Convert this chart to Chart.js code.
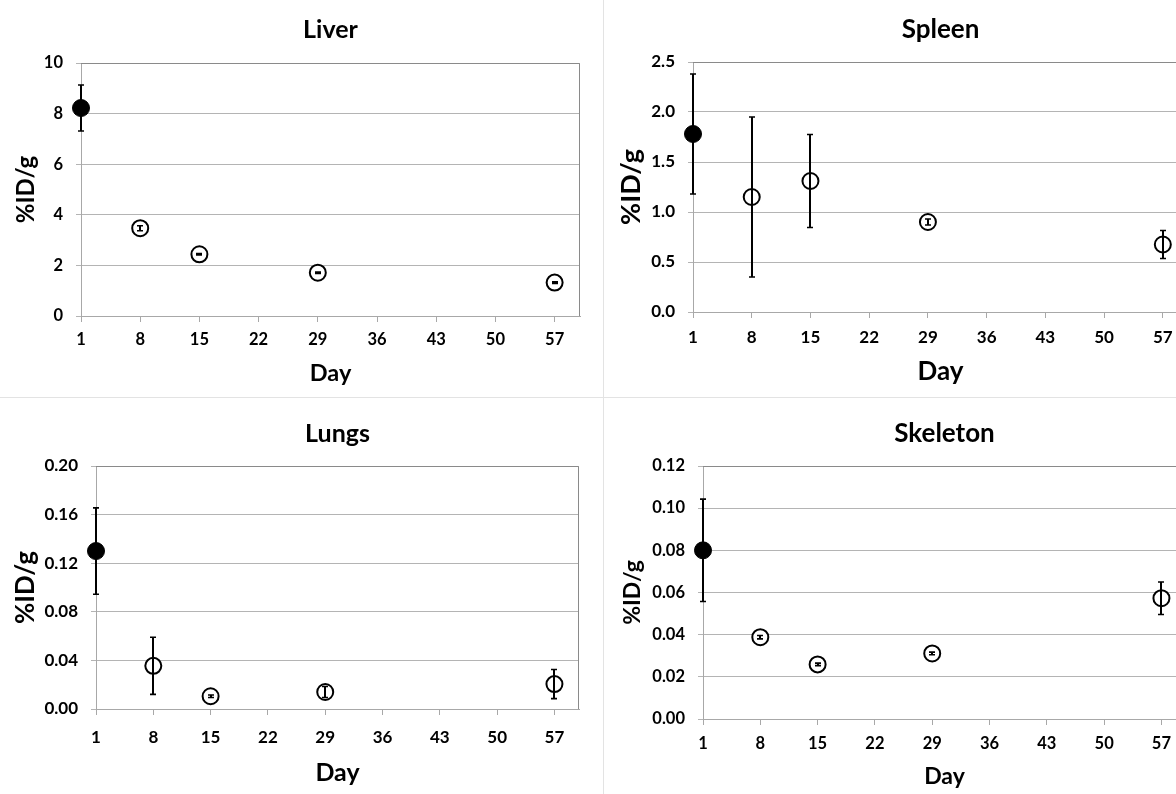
<!DOCTYPE html>
<html>
<head>
<meta charset="utf-8">
<script src="https://cdn.jsdelivr.net/npm/chart.js@4.4.1/dist/chart.umd.min.js"></script>
<style>
  html, body { margin: 0; padding: 0; background: #fff; width: 1176px; height: 794px; overflow: hidden; }
  .panel { position: absolute; }
  .sep-v { position: absolute; left: 603px; top: 0; width: 1px; height: 794px; background: #e3e3e3; }
  .sep-h { position: absolute; left: 0; top: 397px; width: 1176px; height: 1px; background: #e3e3e3; }
</style>
</head>
<body>
<div class="sep-v"></div>
<div class="sep-h"></div>
<canvas class="panel" id="liver"></canvas>
<canvas class="panel" id="spleen"></canvas>
<canvas class="panel" id="lungs"></canvas>
<canvas class="panel" id="skeleton"></canvas>
<script>
// Sampling days and the day ticks shown on every x axis
const days = [1, 8, 15, 29, 57];
const dayTicks = [1, 8, 15, 22, 29, 36, 43, 50, 57];

// %ID/g per organ: mean and error (half-length of the error bar)
const liverMean = [8.22, 3.47, 2.44, 1.71, 1.32];
const liverErr  = [0.91, 0.10, 0.03, 0.03, 0.03];
const liverTicks = [0, 2, 4, 6, 8, 10];

const spleenMean = [1.78, 1.15, 1.31, 0.90, 0.675];
const spleenErr  = [0.60, 0.80, 0.465, 0.03, 0.14];
const spleenTicks = [0, 0.5, 1.0, 1.5, 2.0, 2.5];

const lungsMean = [0.130, 0.0355, 0.0105, 0.014, 0.0205];
const lungsErr  = [0.0355, 0.0235, 0.001, 0.0045, 0.012];
const lungsTicks = [0, 0.04, 0.08, 0.12, 0.16, 0.20];

const skeletonMean = [0.080, 0.0388, 0.0259, 0.0311, 0.0573];
const skeletonErr  = [0.0243, 0.0008, 0.0006, 0.0006, 0.0077];
const skeletonTicks = [0, 0.02, 0.04, 0.06, 0.08, 0.10, 0.12];

const FONT = 'Lato';

// Vertical error bars with short caps, drawn through the chart's scales
const errorBars = {
  id: 'errorBars',
  afterDatasetsDraw(chart) {
    const { ctx, scales: { x, y } } = chart;
    chart.data.datasets.forEach(ds => {
      if (!ds.errors) return;
      ctx.save();
      ctx.strokeStyle = '#000';
      ds.data.forEach((pt, i) => {
        const e = ds.errors[i];
        const px = Math.round(x.getPixelForValue(pt.x));
        const yTop = y.getPixelForValue(pt.y + e);
        const yBot = y.getPixelForValue(pt.y - e);
        ctx.lineWidth = 2;
        ctx.beginPath();
        ctx.moveTo(px, yTop);
        ctx.lineTo(px, yBot);
        ctx.stroke();
        ctx.lineWidth = 1.6;
        ctx.beginPath();
        ctx.moveTo(px - 3, yTop); ctx.lineTo(px + 3, yTop);
        ctx.moveTo(px - 3, yBot); ctx.lineTo(px + 3, yBot);
        ctx.stroke();
      });
      ctx.restore();
    });
  }
};

// Top and right edges of the plot area
const plotFrame = {
  id: 'plotFrame',
  beforeDatasetsDraw(chart, args, opts) {
    const { ctx, chartArea: a } = chart;
    const t = Math.round(a.top) + 0.5;
    const r = Math.round(a.right) - 0.5;
    ctx.save();
    ctx.strokeStyle = opts.color || '#888';
    ctx.lineWidth = 1;
    ctx.beginPath();
    ctx.moveTo(a.left, t);
    ctx.lineTo(r, t);
    ctx.lineTo(r, a.bottom);
    ctx.stroke();
    ctx.restore();
  }
};

function panel(id, title, means, errs, yTicks, decimals, L) {
  const [bx, by, bw, bh] = L.box;
  const [al, at, ar, ab] = L.area;
  const cv = document.getElementById(id);
  cv.width = bw; cv.height = bh;
  cv.style.left = bx + 'px'; cv.style.top = by + 'px';
  cv.style.width = bw + 'px'; cv.style.height = bh + 'px';

  const titlePadTop = L.titleY - by - 0.6 * L.titleSize;
  const titlePadBottom = (at - by) - titlePadTop - 1.2 * L.titleSize;
  const xTitlePadBottom = (by + bh) - L.xTitleY - 0.6 * L.xTitleSize;
  const yTitlePadTop = L.yTitleX - bx - 0.6 * L.yTitleSize;

  new Chart(cv, {
    type: 'scatter',
    data: {
      datasets: [{
        label: title,
        data: days.map((d, i) => ({ x: d, y: means[i] })),
        errors: errs,
        pointStyle: 'circle',
        pointRadius: ctx => ctx.dataIndex === 0 ? 8.5 : 8,
        pointBorderWidth: ctx => ctx.dataIndex === 0 ? 1 : 2,
        pointBackgroundColor: ctx => ctx.dataIndex === 0 ? '#000' : '#fff',
        pointBorderColor: '#000',
        showLine: false,
        clip: false
      }]
    },
    options: {
      responsive: false,
      animation: false,
      devicePixelRatio: 1,
      layout: { padding: { left: 0, top: 0, bottom: 0, right: bx + bw - ar } },
      plugins: {
        legend: { display: false },
        tooltip: { enabled: false },
        title: {
          display: true, text: title, fullSize: false, color: '#000',
          font: { family: FONT, weight: 'bold', size: L.titleSize, lineHeight: 1.2 },
          padding: { top: titlePadTop, bottom: titlePadBottom }
        },
        plotFrame: { color: '#8a8a8a' }
      },
      scales: {
        x: {
          type: 'linear', min: 1, max: 60,
          afterBuildTicks: s => { s.ticks = dayTicks.map(v => ({ value: v })); },
          afterFit: s => { s.height = by + bh - ab; },
          grid: { drawOnChartArea: false, drawTicks: true, tickLength: 6, color: '#a8a8a8' },
          border: { color: '#a8a8a8' },
          ticks: {
            color: '#000', padding: L.xTickPad, maxRotation: 0, autoSkip: false,
            font: { family: FONT, weight: 'bold', size: L.tickSize }
          },
          title: {
            display: true, text: 'Day', color: '#000',
            font: { family: FONT, weight: 'bold', size: L.xTitleSize, lineHeight: 1.2 },
            padding: { top: 0, bottom: xTitlePadBottom }
          }
        },
        y: {
          min: yTicks[0], max: yTicks[yTicks.length - 1],
          afterBuildTicks: s => { s.ticks = yTicks.map(v => ({ value: v })); },
          afterFit: s => { s.width = al - bx; },
          grid: { color: '#b4b4b4', tickLength: 5 },
          border: { color: '#a8a8a8' },
          ticks: {
            color: '#000', padding: 13,
            font: { family: FONT, weight: 'bold', size: L.tickSize },
            callback: v => Number(v).toFixed(decimals)
          },
          title: {
            display: true, text: '%ID/g', color: '#000',
            font: { family: FONT, weight: 'bold', size: L.yTitleSize, lineHeight: 1.2 },
            padding: { top: yTitlePadTop, bottom: 0 }
          }
        }
      }
    },
    plugins: [errorBars, plotFrame]
  });
}

panel('liver', 'Liver', liverMean, liverErr, liverTicks, 0, {
  box: [0, 0, 600, 396], area: [81, 63, 580, 316],
  titleY: 30, titleSize: 25, tickSize: 16.5, xTickPad: 8,
  xTitleY: 373, xTitleSize: 23.5, yTitleX: 26, yTitleSize: 24
});
panel('spleen', 'Spleen', spleenMean, spleenErr, spleenTicks, 1, {
  box: [605, 0, 600, 396], area: [693, 62, 1188, 312],
  titleY: 30, titleSize: 26, tickSize: 17, xTickPad: 9,
  xTitleY: 372, xTitleSize: 26, yTitleX: 631, yTitleSize: 27
});
panel('lungs', 'Lungs', lungsMean, lungsErr, lungsTicks, 2, {
  box: [0, 400, 600, 394], area: [96, 466, 579, 709],
  titleY: 434, titleSize: 25, tickSize: 17, xTickPad: 12,
  xTitleY: 773, xTitleSize: 25, yTitleX: 26, yTitleSize: 26
});
panel('skeleton', 'Skeleton', skeletonMean, skeletonErr, skeletonTicks, 2, {
  box: [605, 400, 600, 394], area: [703, 466, 1186, 719],
  titleY: 434, titleSize: 26, tickSize: 16.5, xTickPad: 9,
  xTitleY: 777, xTitleSize: 23, yTitleX: 633, yTitleSize: 23
});
</script>
</body>
</html>
